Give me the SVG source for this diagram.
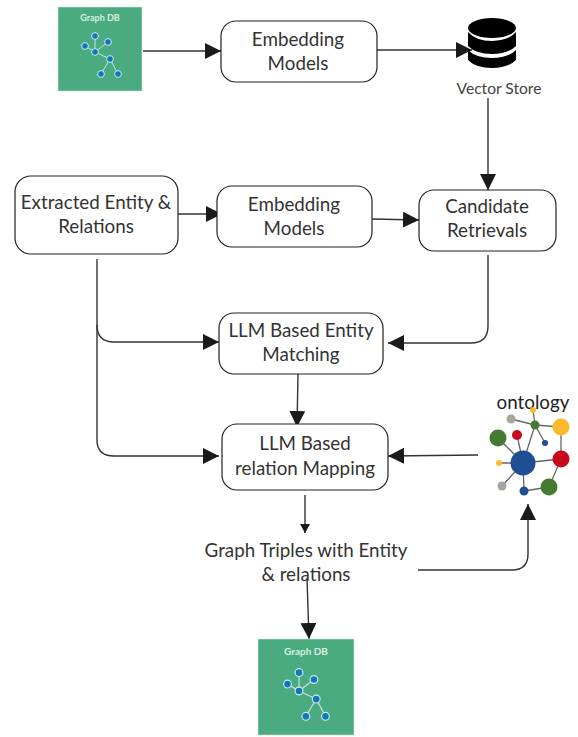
<svg xmlns="http://www.w3.org/2000/svg" width="578" height="737" viewBox="0 0 578 737">
<style>
text{font-family:Lato,"Noto Sans","Liberation Sans",sans-serif;fill:#333}
.lbl{font-size:18.8px;text-anchor:middle}
.box{fill:#fff;stroke:#222;stroke-width:1.2}
.c{fill:none;stroke:#333;stroke-width:1.4}
.big{marker-end:url(#ah)}
.sm{marker-end:url(#as)}
.tile{fill:#4aaa80;stroke:#cfe8dc;stroke-width:.6}
.gl{stroke:#c8e6da;stroke-width:1;fill:none}
.gn{fill:#0f77bd;stroke:#d5ece4;stroke-width:1}
.ol{stroke:#666;stroke-width:1.3;fill:none}
</style>
<defs>
<marker id="ah" markerUnits="userSpaceOnUse" markerWidth="18" markerHeight="18" refX="16" refY="8" orient="auto"><path d="M0 0L16 8L0 16Z" fill="#1a1a1a"/></marker>
<marker id="as" markerUnits="userSpaceOnUse" markerWidth="11" markerHeight="11" refX="9" refY="5" orient="auto"><path d="M0 0L9 5L0 10Z" fill="#1a1a1a"/></marker>
<g id="net">
<path class="gl" d="M0 0V-16M0 0L13 -10M0 0L-10 -6M0 0L15 7M15 7L6 22M15 7L23 22"/>
<circle class="gn" cx="0" cy="-16" r="3.4"/><circle class="gn" cx="13" cy="-10" r="3.4"/><circle class="gn" cx="-10" cy="-6" r="3.4"/><circle class="gn" cx="0" cy="0" r="3.4"/><circle class="gn" cx="15" cy="7" r="3.4"/><circle class="gn" cx="6" cy="22" r="3.4"/><circle class="gn" cx="23" cy="22" r="3.4"/>
</g>
</defs>
<g id="connectors">
<path class="c big" d="M143 51H221"/>
<path class="c big" d="M377 50H472"/>
<path class="c big" d="M488 98V190"/>
<path class="c big" d="M178 214H222"/>
<path class="c big" d="M372 219L419 220"/>
<path class="c big" d="M97 259V325Q97 342 114 342H219"/>
<path class="c big" d="M488 255V326Q488 343 471 343H388"/>
<path class="c big" d="M97 325V440Q97 456 114 456H219"/>
<path class="c big" d="M298 374L297 427"/>
<path class="c big" d="M478 455L388 456"/>
<path class="c sm" d="M305 495V533"/>
<path class="c big" d="M307 578L309 639"/>
<path class="c big" d="M418 570H512Q528 570 528 554V504"/>
</g>
<g id="graphdb-top">
<rect class="tile" x="58" y="7" width="84" height="84"/>
<text x="100" y="21" font-size="9" font-weight="700" text-anchor="middle" style="fill:#d8efe6">Graph DB</text>
<use href="#net" x="95" y="52"/>
</g>
<g id="embedding-top"><rect class="box" x="221" y="21" width="156" height="61" rx="15"/><text class="lbl" x="298" y="46">Embedding</text><text class="lbl" x="298" y="70">Models</text></g>
<g id="vector-store">
<ellipse cx="492" cy="28" rx="24" ry="10" fill="#000"/>
<path d="M468 32Q476 41 492 41Q508 41 516 32V46Q508 54 492 54Q476 54 468 46Z" fill="#000"/>
<path d="M468 50Q476 58 492 58Q508 58 516 50V60Q508 68 492 68Q476 68 468 60Z" fill="#000"/>
<text x="499" y="94" font-size="15.6" text-anchor="middle" style="fill:#444">Vector Store</text>
</g>
<g id="extracted"><rect class="box" x="15" y="176" width="163" height="78" rx="16"/><text class="lbl" x="96" y="209">Extracted Entity &amp;</text><text class="lbl" x="96" y="233">Relations</text></g>
<g id="embedding-mid"><rect class="box" x="217" y="186" width="155" height="61" rx="15"/><text class="lbl" x="294" y="211">Embedding</text><text class="lbl" x="294" y="235">Models</text></g>
<g id="candidate"><rect class="box" x="419" y="190" width="137" height="61" rx="15"/><text class="lbl" x="487" y="213">Candidate</text><text class="lbl" x="487" y="237">Retrievals</text></g>
<g id="entity-matching"><rect class="box" x="219" y="313" width="164" height="61" rx="15"/><text class="lbl" x="301" y="337">LLM Based Entity</text><text class="lbl" x="301" y="361">Matching</text></g>
<g id="relation-mapping"><rect class="box" x="222" y="424" width="166" height="66" rx="15"/><text class="lbl" x="305" y="450">LLM Based</text><text class="lbl" x="305" y="475">relation Mapping</text></g>
<g id="triples"><text class="lbl" x="306" y="557">Graph Triples with Entity</text><text class="lbl" x="306" y="581">&amp; relations</text></g>
<g id="ontology">
<text x="533" y="409" font-size="18.8" text-anchor="middle" style="fill:#222">ontology</text>
<path class="ol" d="M523 463L498 438M523 463L517 435M523 463L535 425M523 463L561 459M523 463L499 463M523 463L502 486M523 463L524 491M524 491L549 487M549 487L561 459M561 459L561 427M561 427L535 425M535 425L533 410M535 425L511 419M535 425L545 443"/>
<circle cx="498" cy="438" r="8.5" fill="#447b33"/><circle cx="517" cy="435" r="5" fill="#c70a1c"/><circle cx="511" cy="419" r="4.5" fill="#a8a39c"/><circle cx="533" cy="410" r="3" fill="#fdb92c"/><circle cx="535" cy="425" r="4.5" fill="#447b33"/><circle cx="561" cy="427" r="8.5" fill="#fdb92c"/><circle cx="545" cy="443" r="3" fill="#1f4e92"/><circle cx="561" cy="459" r="8.5" fill="#c70a1c"/><circle cx="523" cy="463" r="12.5" fill="#1f4e92"/><circle cx="499" cy="463" r="3" fill="#fdb92c"/><circle cx="502" cy="486" r="4.5" fill="#a8a39c"/><circle cx="524" cy="491" r="4.5" fill="#1f4e92"/><circle cx="549" cy="487" r="8.5" fill="#447b33"/>
</g>
<g id="graphdb-bottom">
<rect class="tile" x="258" y="639" width="96" height="96"/>
<text x="306" y="655" font-size="10" font-weight="700" text-anchor="middle" style="fill:#d8efe6">Graph DB</text>
<use href="#net" transform="translate(299 691) scale(1.15)"/>
</g>
</svg>
